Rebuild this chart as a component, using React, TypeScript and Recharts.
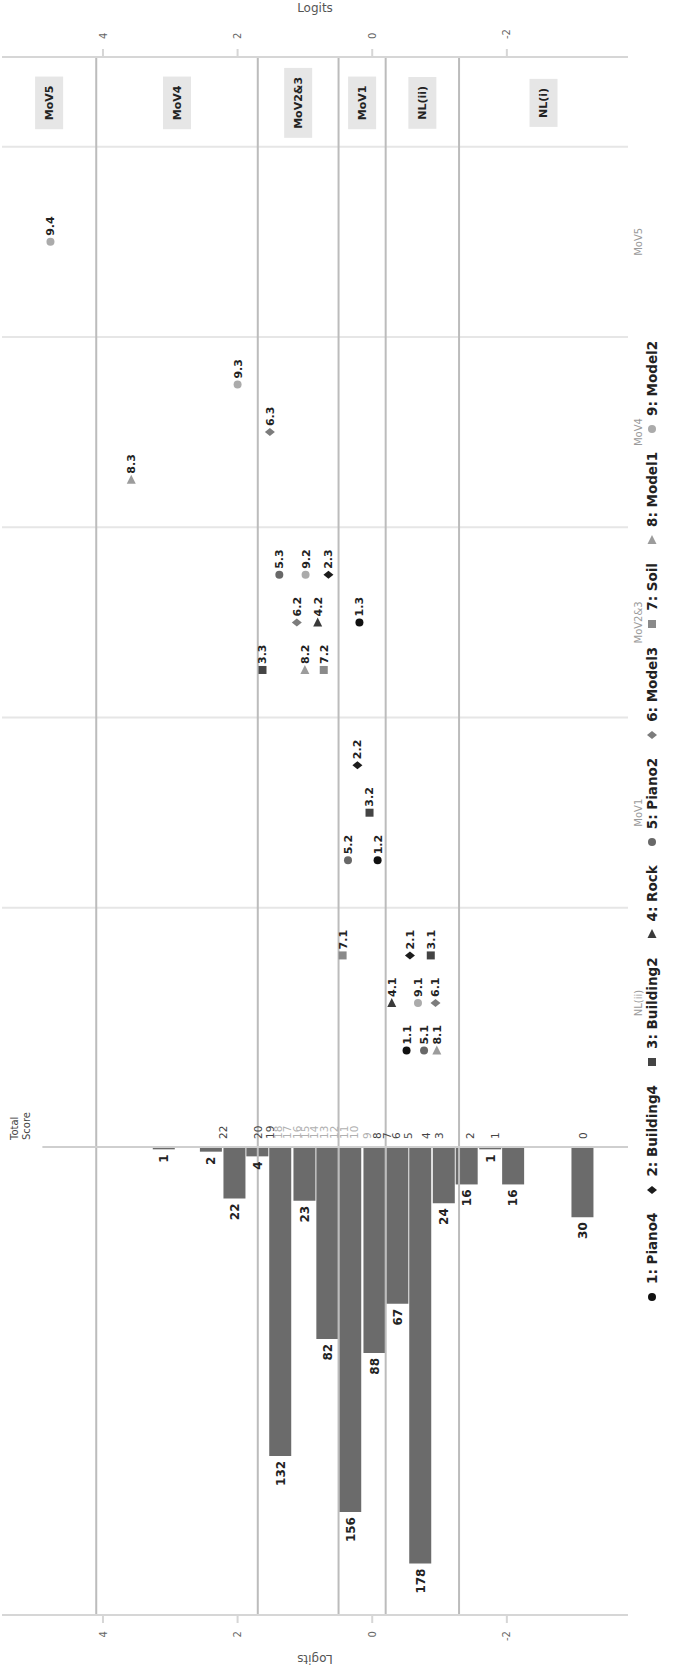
import React from "react";
import {
  Bar,
  ComposedChart,
  LabelList,
  ReferenceLine,
  Scatter,
  XAxis,
  YAxis,
} from "recharts";

// ---- data ----
const logitTicks = [-2, 0, 2, 4];

const columnNames = ["NL(ii)", "MoV1", "MoV2&3", "MoV4", "MoV5"];
const bandNames = ["NL(i)", "NL(ii)", "MoV1", "MoV2&3", "MoV4", "MoV5"];
const cutPoints = [-1.29, -0.2, 0.5, 1.7, 4.1];

// person histogram (bin centre in logits, count)
const binLogits = [3.09, 2.39, 2.04, 1.7, 1.36, 1.0, 0.66, 0.32, -0.04, -0.38, -0.72, -1.07, -1.41, -1.76, -2.1, -3.13];
const binCounts = [1, 2, 22, 4, 132, 23, 82, 156, 88, 67, 178, 24, 16, 1, 16, 30];

// raw total score -> logit
const scoreValues = [22, 20, 19, 18, 17, 16, 15, 14, 13, 12, 11, 10, 9, 8, 7, 6, 5, 4, 3, 2, 1, 0];
const scoreLogits = [2.21, 1.7, 1.51, 1.39, 1.26, 1.12, 0.99, 0.86, 0.72, 0.57, 0.42, 0.26, 0.08, -0.07, -0.22, -0.36, -0.54, -0.8, -1.0, -1.45, -1.82, -3.14];

const itemNames = ["Piano4", "Building4", "Building2", "Rock", "Piano2", "Model3", "Soil", "Model1", "Model2"];
const itemColors = ["#111111", "#1c1c1c", "#444444", "#3a3a3a", "#686868", "#7c7c7c", "#8a8a8a", "#9c9c9c", "#ababab"];
const itemShapes = ["circle", "diamond", "square", "triangle", "circle", "diamond", "square", "triangle", "circle"];

// item steps: label, column, slot inside the column, logit
const stepLabels = ["9.4", "9.3", "6.3", "8.3", "5.3", "9.2", "2.3", "6.2", "4.2", "1.3", "3.3", "8.2", "7.2", "2.2", "3.2", "5.2", "1.2", "7.1", "2.1", "3.1", "4.1", "9.1", "6.1", "1.1", "5.1", "8.1"];
const stepColumns = [4, 3, 3, 3, 2, 2, 2, 2, 2, 2, 2, 2, 2, 1, 1, 1, 1, 0, 0, 0, 0, 0, 0, 0, 0, 0];
const stepSlots = [0, 1, 0, -1, 1, 1, 1, 0, 0, 0, -1, -1, -1, 1, 0, -1, -1, 1, 1, 1, 0, 0, 0, -1, -1, -1];
const stepLogits = [4.78, 2.0, 1.52, 3.58, 1.38, 0.99, 0.65, 1.12, 0.81, 0.19, 1.63, 1.0, 0.72, 0.22, 0.04, 0.36, -0.08, 0.44, -0.56, -0.87, -0.29, -0.68, -0.94, -0.51, -0.77, -0.96];

// ---- layout (chart is drawn upright, then turned a quarter turn) ----
const W = 1667;
const H = 685;
const FONT = '"DejaVu Sans", Verdana, sans-serif';
const logitDomain: [number, number] = [-3.8, 5.5];
const plotLeft = 52;
const plotRight = 1610;
const firstColumnX = 664;
const columnPitch = 190.3;
const zeroCountX = 520;
const pxPerCount = 2.34;
const slotStep = 0.25;
const bandLabelColumn = 4.73;

const posDomain: [number, number] = [
  (plotLeft - firstColumnX) / columnPitch,
  (plotRight - firstColumnX) / columnPitch,
];
const cntDomain: [number, number] = [
  -(plotRight - zeroCountX) / pxPerCount,
  (zeroCountX - plotLeft) / pxPerCount,
];

const binData = binLogits.map((logit, i) => ({ logit, count: binCounts[i] }));
const scoreData = scoreValues.map((score, i) => ({ count: 0, logit: scoreLogits[i], score }));
const bandBounds = [logitDomain[0], ...cutPoints, logitDomain[1]];
const bandData = bandNames.map((name, i) => ({
  x: bandLabelColumn,
  logit: (bandBounds[i] + bandBounds[i + 1]) / 2,
  name,
}));
const stepData = stepLabels.map((label, i) => ({
  label,
  item: parseInt(label, 10),
  x: stepColumns[i] + stepSlots[i] * slotStep,
  logit: stepLogits[i],
}));

let measureCtx: CanvasRenderingContext2D | null = null;
function textWidth(text: string, font: string) {
  if (!measureCtx) measureCtx = document.createElement("canvas").getContext("2d");
  if (!measureCtx) return text.length * 7.5;
  measureCtx.font = font;
  return measureCtx.measureText(text).width;
}

function Marker({ shape, x, y, color, s = 4 }: any) {
  if (shape === "circle") return <circle cx={x} cy={y} r={s} fill={color} />;
  if (shape === "square") return <rect x={x - s} y={y - s} width={2 * s} height={2 * s} fill={color} />;
  if (shape === "diamond")
    return <path d={`M${x},${y - s - 1}L${x + s},${y}L${x},${y + s + 1}L${x - s},${y}Z`} fill={color} />;
  // triangle points right here, which is "up" once the page is turned
  return <path d={`M${x + s + 1},${y}L${x - s},${y - s - 0.5}L${x - s},${y + s + 0.5}Z`} fill={color} />;
}

const stepShape = (idx: number) => (props: any) => {
  const { cx, cy, payload } = props;
  return (
    <g>
      <Marker shape={itemShapes[idx]} x={cx} y={cy} color={itemColors[idx]} />
      <text x={cx + 6} y={cy} dy="0.36em" fontSize={11} fontWeight="bold" fill="#222" fontFamily={FONT}>
        {payload.label}
      </text>
    </g>
  );
};

const scoreShape = (props: any) => {
  const { cx, cy, payload } = props;
  const faint = payload.score >= 9 && payload.score <= 18;
  return (
    <text x={cx + 8} y={cy} dy="0.36em" fontSize={10.5} fill={faint ? "#b0b0b0" : "#444"} fontFamily={FONT}>
      {payload.score}
    </text>
  );
};

const bandShape = (props: any) => {
  const { cx, cy, payload } = props;
  const w = textWidth(payload.name, `bold 11px ${FONT}`) + 18;
  return (
    <g>
      <rect x={cx - w / 2} y={cy - 14} width={w} height={28} fill="#e6e6e6" />
      <text x={cx} y={cy} dy="0.36em" textAnchor="middle" fontSize={11} fontWeight="bold" fill="#222" fontFamily={FONT}>
        {payload.name}
      </text>
    </g>
  );
};

const barLabel = (props: any) => {
  const { x, y, width, height, value } = props;
  const left = Math.min(x, x + width);
  return (
    <text x={left - 5} y={y + height / 2} dy="0.36em" textAnchor="end" fontSize={12} fontWeight="bold" fill="#222" fontFamily={FONT}>
      {value}
    </text>
  );
};

function LegendRow() {
  return (
    <div
      style={{
        position: "absolute",
        left: 364,
        top: 644,
        height: 16,
        display: "flex",
        alignItems: "center",
        fontFamily: FONT,
        fontSize: 13.5,
        fontWeight: "bold",
        color: "#222",
        whiteSpace: "nowrap",
      }}
    >
      {itemNames.map((name, i) => (
        <div key={name} style={{ display: "flex", alignItems: "center", marginRight: 17 }}>
          <svg width={12} height={12} style={{ marginRight: 7 }}>
            <Marker shape={itemShapes[i]} x={6} y={6} color={itemColors[i]} />
          </svg>
          <span>{`${i + 1}: ${name}`}</span>
        </div>
      ))}
    </div>
  );
}

export default function App() {
  const axisStroke = { stroke: "#d6d6d6", strokeWidth: 2 };
  return (
    <div
      style={{
        position: "absolute",
        left: 0,
        top: 0,
        width: H,
        height: W,
        overflow: "hidden",
        background: "#fff",
      }}
    >
      <div
        style={{
          position: "absolute",
          left: 0,
          top: 0,
          width: W,
          height: H,
          transformOrigin: "0 0",
          transform: `translate(0px, ${W}px) rotate(-90deg)`,
          fontFamily: FONT,
          background: "#fff",
        }}
      >
        <ComposedChart
          width={W}
          height={H}
          layout="vertical"
          data={binData}
          margin={{ top: 2, right: 0, bottom: 35, left: 0 }}
        >
          <XAxis
            xAxisId="pos"
            type="number"
            dataKey="x"
            domain={posDomain}
            allowDataOverflow
            ticks={[0, 1, 2, 3, 4]}
            tickFormatter={(v) => columnNames[v] ?? ""}
            axisLine={false}
            tickLine={false}
            tickSize={3}
            tickMargin={4}
            height={22}
            tick={{ fill: "#9a9a9a", fontSize: 10 }}
          />
          <XAxis
            xAxisId="cnt"
            type="number"
            dataKey="count"
            domain={cntDomain}
            allowDataOverflow
            reversed
            hide
            height={0}
          />
          <YAxis
            yAxisId="L"
            type="number"
            dataKey="logit"
            orientation="left"
            domain={logitDomain}
            allowDataOverflow
            reversed
            ticks={logitTicks}
            width={plotLeft}
            axisLine={axisStroke}
            tickLine={axisStroke}
            tickSize={8}
            tickMargin={8}
            tick={{ fill: "#666", fontSize: 10 }}
          />
          <YAxis
            yAxisId="R"
            type="number"
            dataKey="logit"
            orientation="right"
            domain={logitDomain}
            allowDataOverflow
            reversed
            ticks={logitTicks}
            width={W - plotRight}
            axisLine={axisStroke}
            tickLine={axisStroke}
            tickSize={8}
            tickMargin={10}
            tick={{ fill: "#666", fontSize: 10 }}
          />
          <YAxis
            yAxisId="B"
            type="number"
            dataKey="logit"
            domain={logitDomain}
            allowDataOverflow
            reversed
            hide
            width={0}
          />

          {[0.5, 1.5, 2.5, 3.5, 4.5].map((x) => (
            <ReferenceLine key={`sep${x}`} xAxisId="pos" yAxisId="L" x={x} stroke="#e6e6e6" strokeWidth={2} />
          ))}
          {cutPoints.map((c) => (
            <ReferenceLine key={`cut${c}`} xAxisId="pos" yAxisId="L" y={c} stroke="#bcbcbc" strokeWidth={2} />
          ))}
          <ReferenceLine
            xAxisId="cnt"
            yAxisId="L"
            segment={[
              { x: 0, y: 4.9 },
              { x: 0, y: logitDomain[0] },
            ]}
            stroke="#cfcfcf"
            strokeWidth={2}
          />

          <Bar xAxisId="cnt" yAxisId="B" dataKey="count" barSize={22} fill="#6b6b6b" isAnimationActive={false}>
            <LabelList dataKey="count" content={barLabel} />
          </Bar>

          <Scatter
            name="scores"
            data={scoreData}
            xAxisId="cnt"
            yAxisId="L"
            shape={scoreShape}
            isAnimationActive={false}
          />
          <Scatter
            name="bands"
            data={bandData}
            xAxisId="pos"
            yAxisId="R"
            shape={bandShape}
            isAnimationActive={false}
          />
          {itemNames.map((name, i) => (
            <Scatter
              key={name}
              name={`${i + 1}: ${name}`}
              data={stepData.filter((d) => d.item === i + 1)}
              xAxisId="pos"
              yAxisId="L"
              shape={stepShape(i)}
              isAnimationActive={false}
            />
          ))}
        </ComposedChart>

        <div
          style={{
            position: "absolute",
            left: 527,
            top: 9,
            fontSize: 10,
            lineHeight: "12px",
            color: "#444",
          }}
        >
          Total
          <br />
          Score
        </div>
        <div
          style={{
            position: "absolute",
            left: 8,
            top: 315,
            transform: "translate(-50%, -50%) rotate(-90deg)",
            fontSize: 12,
            color: "#555",
          }}
        >
          Logits
        </div>
        <div
          style={{
            position: "absolute",
            left: 1659,
            top: 315,
            transform: "translate(-50%, -50%) rotate(90deg)",
            fontSize: 12,
            color: "#555",
          }}
        >
          Logits
        </div>
        <LegendRow />
      </div>
    </div>
  );
}
